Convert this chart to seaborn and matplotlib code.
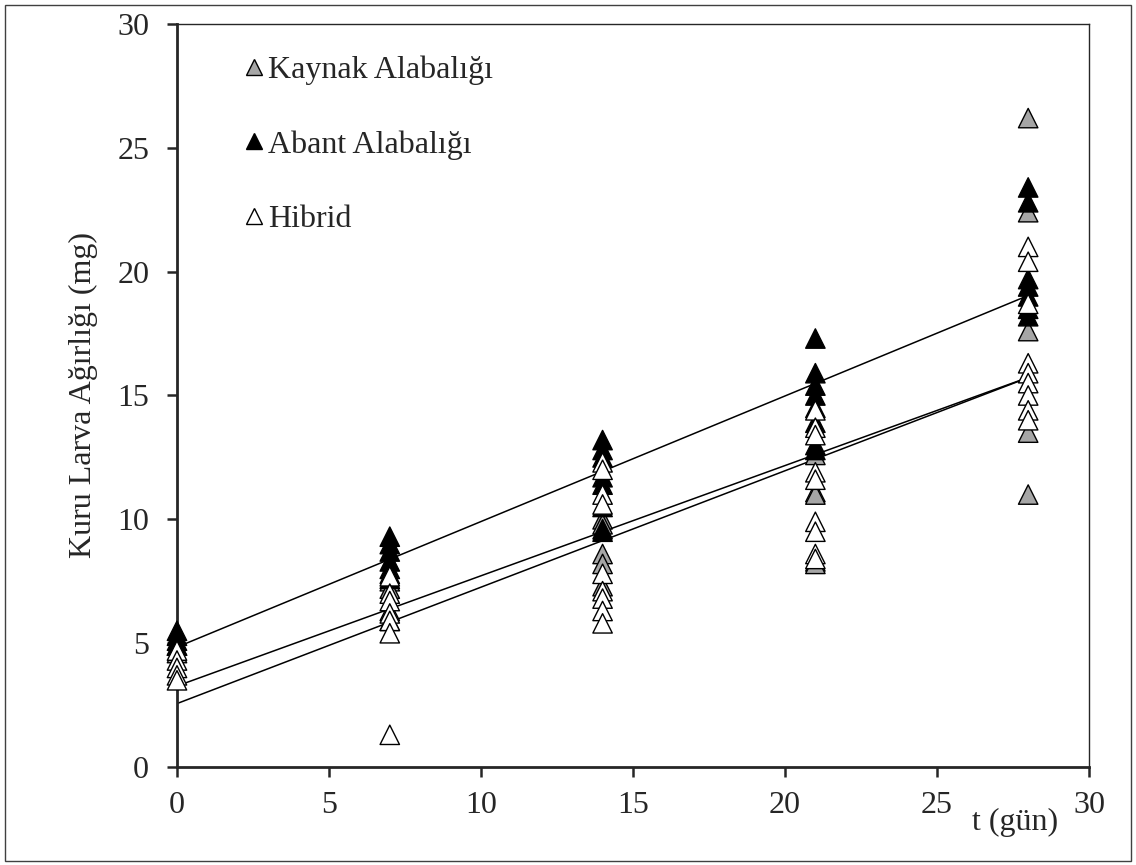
import numpy as np
import pandas as pd
import matplotlib
matplotlib.use("Agg")
import matplotlib.pyplot as plt
from matplotlib.lines import Line2D
from matplotlib.patches import Rectangle
import seaborn as sns

# --- sampled larval dry weights (mg) by day ---
days = [0, 7, 14, 21, 28]

kaynak_t = [0, 0, 7, 7, 7, 7, 14, 14, 14, 14, 14, 21, 21, 21, 21, 21, 28, 28, 28, 28, 28]
kaynak_w = [4.9, 4.6, 7.5, 7.2, 6.3, 5.9, 10.0, 9.8, 8.6, 8.2, 7.3,
            12.6, 11.1, 11.0, 8.3, 8.2, 26.2, 22.4, 17.6, 13.5, 11.0]

abant_t = [0, 0, 0, 0, 7, 7, 7, 7, 7, 7, 7, 14, 14, 14, 14, 14, 14, 14, 14,
           21, 21, 21, 21, 21, 21, 21, 21, 28, 28, 28, 28, 28, 28, 28]
abant_w = [5.5, 5.3, 5.1, 4.9, 9.3, 9.0, 8.7, 8.3, 8.0, 7.8, 7.6,
           13.2, 12.8, 12.5, 11.7, 11.4, 10.5, 9.6, 9.5,
           17.3, 15.9, 15.4, 15.0, 14.5, 13.9, 13.0, 12.8,
           23.4, 22.8, 19.7, 19.4, 19.0, 18.5, 18.2]

hibrid_t = [0, 0, 0, 0, 0, 7, 7, 7, 7, 7, 7, 7, 14, 14, 14, 14, 14, 14, 14, 14, 14,
            21, 21, 21, 21, 21, 21, 21, 21, 21, 28, 28, 28, 28, 28, 28, 28, 28, 28]
hibrid_w = [4.7, 4.3, 4.0, 3.7, 3.5, 7.7, 7.0, 6.7, 6.2, 5.9, 5.4, 1.3,
            12.3, 12.0, 11.0, 10.6, 7.8, 7.1, 6.8, 6.3, 5.8,
            14.4, 13.7, 13.4, 11.9, 11.6, 9.9, 9.5, 8.6, 8.4,
            21.0, 20.4, 18.7, 16.3, 15.9, 15.5, 15.0, 14.4, 14.0]

groups = ["Kaynak Alabalığı", "Abant Alabalığı", "Hibrid"]
fill_colors = ["#a6a6a6", "#000000", "#ffffff"]

# linear growth fits: weight = intercept + slope * t
fit_intercept = [3.27, 4.84, 2.56]
fit_slope = [0.445, 0.507, 0.470]
fit_range = [0, 28]

x_ticks = [0, 5, 10, 15, 20, 25, 30]
y_ticks = [0, 5, 10, 15, 20, 25, 30]

df = pd.concat([
    pd.DataFrame({"t": kaynak_t, "w": kaynak_w, "grup": groups[0]}),
    pd.DataFrame({"t": abant_t, "w": abant_w, "grup": groups[1]}),
    pd.DataFrame({"t": hibrid_t, "w": hibrid_w, "grup": groups[2]}),
], ignore_index=True)

sns.set_theme(style="ticks")
plt.rcParams["font.family"] = ["Liberation Serif", "DejaVu Serif"]

FS = 23

fig = plt.figure(figsize=(11.36, 8.65), dpi=100)
ax = fig.add_axes([0.1558, 0.1133, 0.8028, 0.8590])

# regression lines
tt = np.array(fit_range, dtype=float)
for b0, b1 in zip(fit_intercept, fit_slope):
    ax.plot(tt, b0 + b1 * tt, color="black", lw=1.1, zorder=2)

sns.scatterplot(data=df, x="t", y="w", hue="grup", hue_order=groups,
                palette=dict(zip(groups, fill_colors)), marker="^", s=195,
                edgecolor="black", linewidth=1.0, legend=False, ax=ax,
                zorder=3, clip_on=False)

ax.set_xlim(0, 30)
ax.set_ylim(0, 30)
ax.set_xticks(x_ticks)
ax.set_yticks(y_ticks)
ax.tick_params(axis="both", labelsize=FS, direction="out", length=7, width=1.8)
ax.tick_params(axis="y", pad=13)
ax.tick_params(axis="x", pad=10)

for side in ["left", "bottom"]:
    ax.spines[side].set_linewidth(2.0)
for side in ["top", "right"]:
    ax.spines[side].set_linewidth(1.0)
    ax.spines[side].set_visible(True)

ax.set_ylabel("Kuru Larva Ağırlığı (mg)", fontsize=FS, labelpad=14)
ax.set_xlabel("t (gün)", fontsize=FS, va="center")
ax.xaxis.set_label_coords(0.919, -0.075)

handles = [Line2D([], [], linestyle="none", marker="^", markersize=11.5,
                  markerfacecolor=c, markeredgecolor="black", markeredgewidth=1.0)
           for c in fill_colors]
ax.legend(handles, groups, loc="upper left", bbox_to_anchor=(0.058, 0.975),
          frameon=False, fontsize=FS, handlelength=0.7, handletextpad=0.1,
          labelspacing=1.42, borderaxespad=0)

# outer chart border
fig.patches.append(Rectangle((5 / 1136, 4 / 865), 1126 / 1136, 856 / 865,
                             transform=fig.transFigure, fill=False,
                             edgecolor="#404040", linewidth=1.0))

fig.savefig("out.png", dpi=100)
